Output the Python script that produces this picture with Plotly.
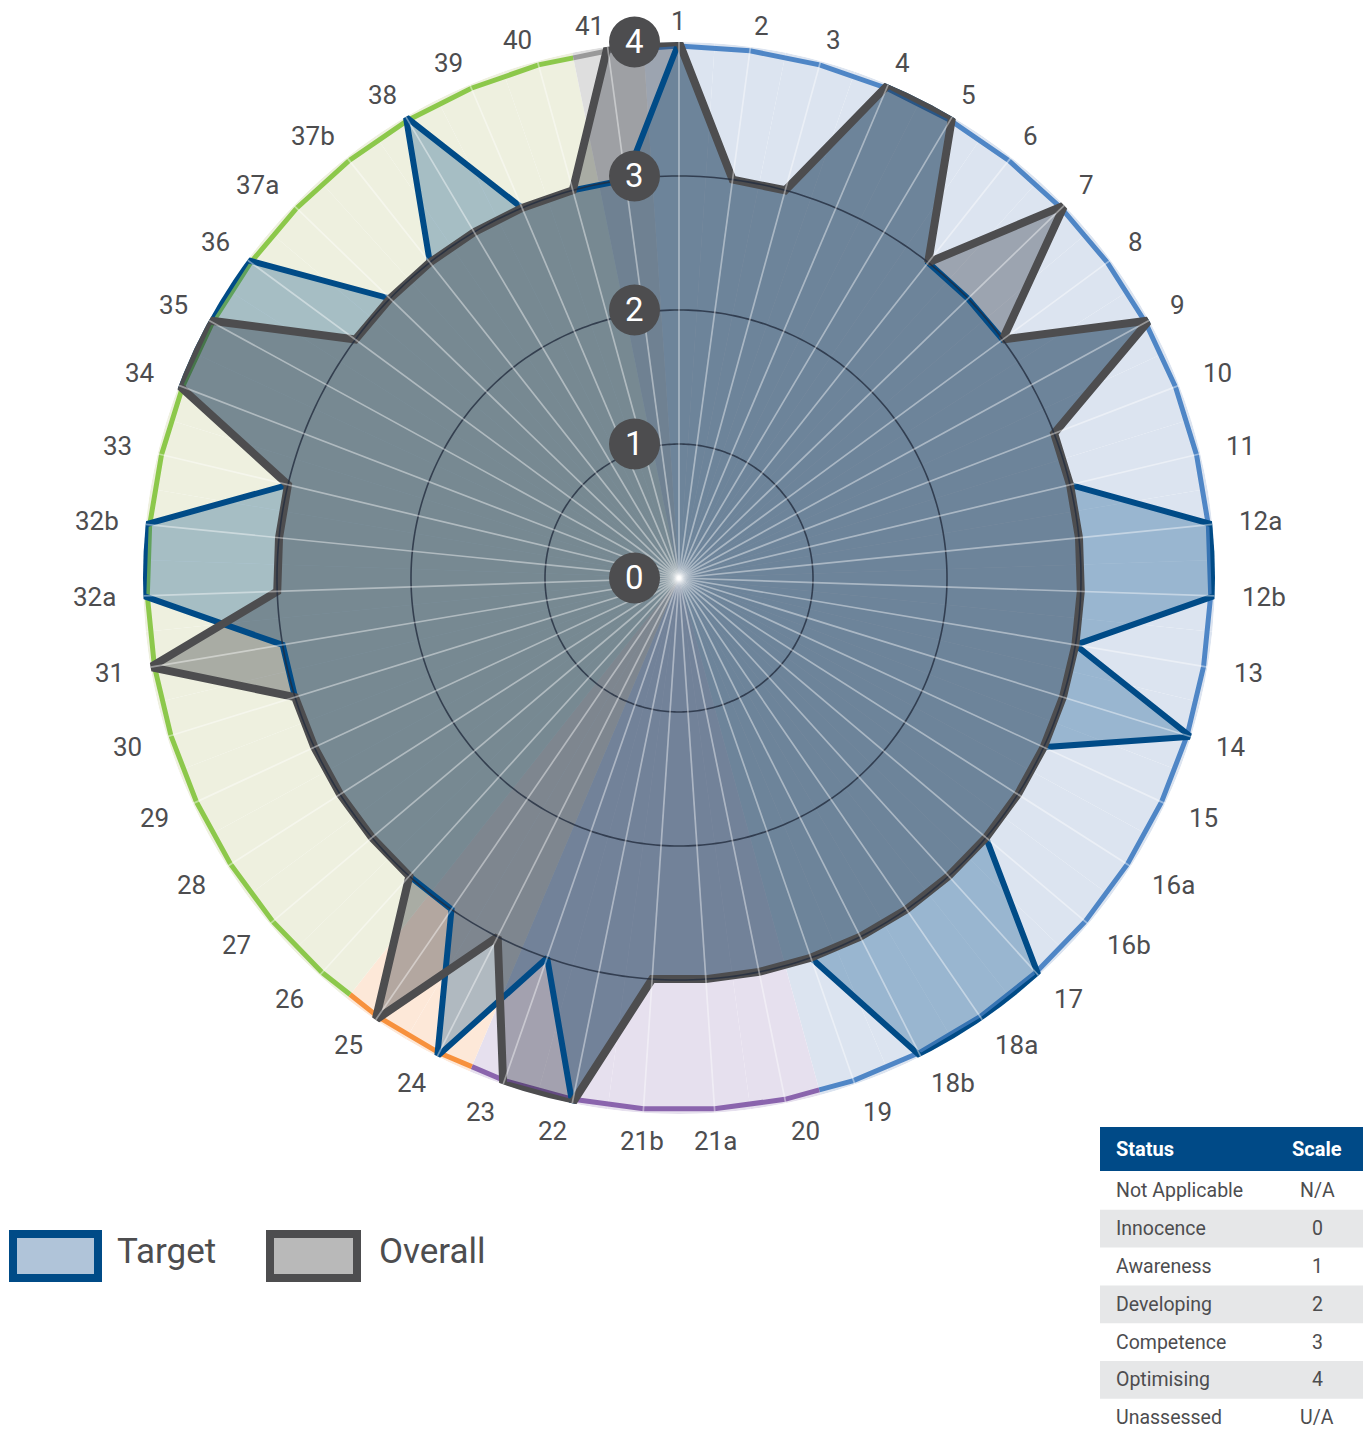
import numpy as np
import plotly.graph_objects as go

# ---------------- data ----------------
categories = ['1', '2', '3', '4', '5', '6', '7', '8', '9', '10', '11', '12a', '12b', '13', '14',
              '15', '16a', '16b', '17', '18a', '18b', '19', '20', '21a', '21b', '22', '23', '24',
              '25', '26', '27', '28', '29', '30', '31', '32a', '32b', '33', '34', '35', '36',
              '37a', '37b', '38', '39', '40', '41']
target = [4, 3, 3, 4, 4, 3, 3, 3, 4, 3, 3, 4, 4, 3, 4, 3, 3, 3, 4, 4, 4, 3, 3, 3, 3, 4, 3, 4,
          3, 3, 3, 3, 3, 3, 3, 4, 4, 3, 4, 4, 4, 3, 3, 4, 3, 3, 3]
overall = [4, 3, 3, 4, 4, 3, 4, 3, 4, 3, 3, 3, 3, 3, 3, 3, 3, 3, 3, 3, 3, 3, 3, 3, 3, 4, 4, 3,
           4, 3, 3, 3, 3, 3, 4, 3, 3, 3, 4, 4, 3, 3, 3, 3, 3, 3, 4]
sections = ['A'] * 22 + ['B'] * 5 + ['C'] * 2 + ['D'] * 17 + ['E'] * 1
radial_ticks = [0, 1, 2, 3, 4]
series_names = ['Target', 'Overall']
table_header = ['Status', 'Scale']
status_labels = ['Not Applicable', 'Innocence', 'Awareness', 'Developing', 'Competence',
                 'Optimising', 'Unassessed']
scale_labels = ['N/A', '0', '1', '2', '3', '4', 'U/A']

# ---------------- style ----------------
W, H = 1370, 1434
CX, CY, R = 679, 578, 536
FONT = 'Roboto'
TXT = '#4d4d4f'
sec_fill = {'A': '#dce4f0', 'B': '#e6e0ee', 'C': '#fde8d8', 'D': '#eef0df', 'E': '#dedede'}
sec_band = {'A': '#4f86c6', 'B': '#8a64ad', 'C': '#f7913d', 'D': '#8cc84b', 'E': '#9a9a9a'}
TARGET_LINE, TARGET_FILL = '#004b87', 'rgba(0,75,135,0.30)'
OVERALL_LINE, OVERALL_FILL = '#4d4d4f', 'rgba(10,18,30,0.30)'

n = len(categories)
step = 360.0 / n
theta = [i * step for i in range(n)]
rmax = max(radial_ticks)
scale = R / rmax  # pixels per radial unit

dom_x = [(CX - R) / W, (CX + R) / W]
dom_y = [1 - (CY + R) / H, 1 - (CY - R) / H]

fig = go.Figure()

# background sectors
fig.add_trace(go.Barpolar(
    r=[rmax] * n, theta=theta, width=[step] * n,
    marker=dict(color=[sec_fill[s] for s in sections], line=dict(width=0)),
    hoverinfo='skip', showlegend=False))

# coloured outer band per section
mid_r = rmax * np.cos(np.radians(step / 2))
runs = []
start = 0
for i in range(1, n + 1):
    if i == n or sections[i] != sections[start]:
        runs.append((start, i - 1, sections[start]))
        start = i
for a, b, s in runs:
    th = [theta[a] - step / 2]
    rr = [mid_r]
    for k in range(a, b + 1):
        th.append(theta[k]); rr.append(rmax)
    th.append(theta[b] + step / 2); rr.append(mid_r)
    rr = [v - 0.03 for v in rr]
    fig.add_trace(go.Scatterpolar(r=rr, theta=th, mode='lines',
                                  line=dict(color=sec_band[s], width=5),
                                  hoverinfo='skip', showlegend=False))
# thin outer frame
fig.add_trace(go.Scatterpolar(r=[rmax + 0.02] * (n + 1), theta=theta + [theta[0]], mode='lines',
                              line=dict(color='#8c8c8c', width=1.5),
                              hoverinfo='skip', showlegend=False))

tc = theta + [theta[0]]
# fills (target below, overall on top)
fig.add_trace(go.Scatterpolar(r=target + [target[0]], theta=tc, mode='none', fill='toself',
                              fillcolor=TARGET_FILL, hoverinfo='skip', showlegend=False))
fig.add_trace(go.Scatterpolar(r=overall + [overall[0]], theta=tc, mode='none', fill='toself',
                              fillcolor=OVERALL_FILL, hoverinfo='skip', showlegend=False))
# outlines
fig.add_trace(go.Scatterpolar(r=target + [target[0]], theta=tc, name=series_names[0],
                              mode='lines', line=dict(color=TARGET_LINE, width=6),
                              showlegend=False))
fig.add_trace(go.Scatterpolar(r=overall + [overall[0]], theta=tc, name=series_names[1],
                              mode='lines', line=dict(color=OVERALL_LINE, width=8),
                              showlegend=False))

# grid circles
circ = list(np.linspace(0, 360, 361))
for lv in radial_ticks[1:-1]:
    fig.add_trace(go.Scatterpolar(r=[lv] * len(circ), theta=circ, mode='lines',
                                  line=dict(color='rgba(35,45,62,0.8)', width=1.6),
                                  hoverinfo='skip', showlegend=False))
# spokes
sr, st = [], []
for t in theta:
    sr += [0, rmax, None]
    st += [t, t, None]
fig.add_trace(go.Scatterpolar(r=sr, theta=st, mode='lines',
                              line=dict(color='rgba(255,255,255,0.42)', width=1.7),
                              hoverinfo='skip', showlegend=False))

# invisible cartesian overlay with the same pixel scale as the polar radius
XR = [-rmax - 0.7, rmax + 0.7]
YR = [-rmax - 0.6, rmax + 0.3]
ov_x = [(CX + scale * XR[0]) / W, (CX + scale * XR[1]) / W]
ov_y = [1 - (CY - scale * YR[0]) / H, 1 - (CY - scale * YR[1]) / H]
fig.add_trace(go.Scatter(x=[0] * len(radial_ticks), y=radial_ticks, mode='markers',
                         marker=dict(opacity=0), hoverinfo='skip', showlegend=False,
                         xaxis='x', yaxis='y'))

shapes = []
annotations = []

# category labels around the rim
LBL_H = 22
for lbl, t in zip(categories, theta):
    a = np.radians(t)
    s, c = np.sin(a), np.cos(a)
    gap = (10 + 15 * s * s) if c >= 0 else (17 + 8 * s * s)
    rr = rmax + gap / scale
    if abs(s) < 0.1:
        xa = 'center'
    elif s > 0:
        xa = 'left'
    else:
        xa = 'right'
    annotations.append(dict(x=rr * s, y=rr * c, xref='x', yref='y', xanchor=xa,
                            yanchor='middle', yshift=(LBL_H / 2) * c, text=lbl,
                            showarrow=False, font=dict(family=FONT, size=26, color=TXT)))

# radial value badges
for v in radial_ticks:
    shapes.append(dict(type='circle', xref='x', yref='y', xsizemode='pixel', ysizemode='pixel',
                       xanchor=0, yanchor=v, x0=-70, x1=-19, y0=-25.5, y1=25.5,
                       fillcolor='#4d4d4f', line=dict(width=0), layer='above'))
    annotations.append(dict(x=0, y=v, xref='x', yref='y', xshift=-44.5, yshift=1, text=str(v),
                            showarrow=False, font=dict(family=FONT, size=33, color='white')))


def px(x):
    return x / W


def py(y):
    return 1 - y / H


# custom legend
leg = [(series_names[0], 13, 98, TARGET_LINE, '#b0c4d9', 115),
       (series_names[1], 270, 357, OVERALL_LINE, '#b9b9b9', 377)]
for name, x0, x1, lc, fc, tx in leg:
    shapes.append(dict(type='rect', xref='paper', yref='paper', x0=px(x0), x1=px(x1),
                       y0=py(1278), y1=py(1234), fillcolor=fc, line=dict(color=lc, width=8),
                       layer='above'))
    annotations.append(dict(x=px(tx), y=py(1251), xref='paper', yref='paper', xanchor='left',
                            yanchor='middle', text=name, showarrow=False,
                            font=dict(family=FONT, size=35, color=TXT)))

# status / scale table
TX0, TX1, TY0, HDR_H, ROW_H = 1100, 1363, 1127, 44, 37.8
shapes.append(dict(type='rect', xref='paper', yref='paper', x0=px(TX0), x1=px(TX1),
                   y0=py(TY0 + HDR_H), y1=py(TY0), fillcolor='#004a87', line=dict(width=0),
                   layer='above'))
annotations.append(dict(x=px(1114), y=py(TY0 + HDR_H / 2), xref='paper', yref='paper',
                        xanchor='left', yanchor='middle', text='<b>%s</b>' % table_header[0],
                        showarrow=False, font=dict(family=FONT, size=20, color='white')))
annotations.append(dict(x=px(1317), y=py(TY0 + HDR_H / 2), xref='paper', yref='paper',
                        xanchor='center', yanchor='middle', text='<b>%s</b>' % table_header[1],
                        showarrow=False, font=dict(family=FONT, size=20, color='white')))
for i, (st_lbl, sc_lbl) in enumerate(zip(status_labels, scale_labels)):
    y0 = TY0 + HDR_H + 1 + i * ROW_H
    if i % 2 == 1:
        shapes.append(dict(type='rect', xref='paper', yref='paper', x0=px(TX0), x1=px(TX1),
                           y0=py(y0 + ROW_H), y1=py(y0), fillcolor='#e6e7e8',
                           line=dict(width=0), layer='above'))
    annotations.append(dict(x=px(1114), y=py(y0 + ROW_H / 2), xref='paper', yref='paper',
                            xanchor='left', yanchor='middle', text=st_lbl, showarrow=False,
                            font=dict(family=FONT, size=19.5, color=TXT)))
    annotations.append(dict(x=px(1317), y=py(y0 + ROW_H / 2), xref='paper', yref='paper',
                            xanchor='center', yanchor='middle', text=sc_lbl, showarrow=False,
                            font=dict(family=FONT, size=19.5, color=TXT)))

fig.update_layout(
    width=W, height=H, margin=dict(l=0, r=0, t=0, b=0),
    paper_bgcolor='white', plot_bgcolor='rgba(0,0,0,0)',
    showlegend=False,
    polar=dict(
        domain=dict(x=dom_x, y=dom_y), bgcolor='rgba(0,0,0,0)',
        radialaxis=dict(range=[0, rmax], visible=False),
        angularaxis=dict(direction='clockwise', rotation=90, thetaunit='degrees',
                         tickmode='array', tickvals=theta, ticktext=categories,
                         showticklabels=False, showgrid=False, showline=False, ticks='')),
    xaxis=dict(domain=ov_x, range=XR, visible=False, fixedrange=True),
    yaxis=dict(domain=ov_y, range=YR, visible=False, fixedrange=True),
    shapes=shapes, annotations=annotations,
)

fig.write_html('out.html')
